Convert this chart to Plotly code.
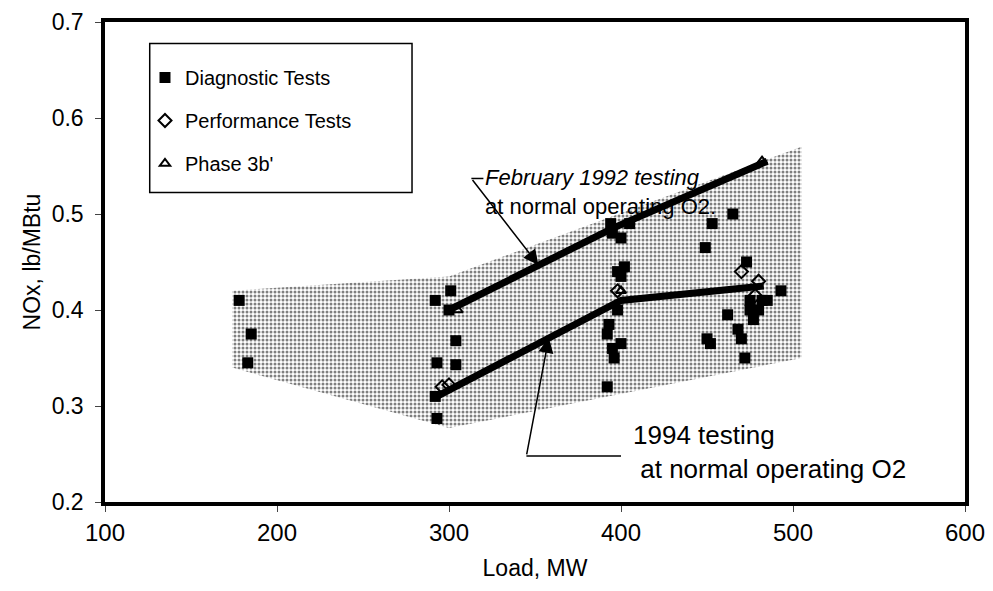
import plotly.graph_objects as go

# ---- data ----
diag_x = [178, 185, 183,
          292, 301, 300, 293, 304, 304, 292, 293,
          392, 392, 393, 395, 396, 398, 400, 402, 400, 395, 394, 398, 400, 405,
          449, 450, 452, 453, 465, 462, 468, 470, 472, 473, 475, 475, 477, 480, 482, 485, 493]
diag_y = [0.41, 0.375, 0.345,
          0.41, 0.42, 0.40, 0.345, 0.368, 0.343, 0.31, 0.287,
          0.32, 0.375, 0.385, 0.36, 0.35, 0.44, 0.435, 0.445, 0.475, 0.48, 0.49, 0.40, 0.365, 0.49,
          0.465, 0.37, 0.365, 0.49, 0.50, 0.395, 0.38, 0.37, 0.35, 0.45, 0.41, 0.40, 0.39, 0.40, 0.41, 0.41, 0.42]
perf_x = [296, 300, 398, 470, 478, 480]
perf_y = [0.32, 0.322, 0.42, 0.44, 0.415, 0.43]
phase_x = [305, 400, 482]
phase_y = [0.40, 0.42, 0.555]

band_x = [174, 300, 505, 505, 300, 174, 174]
band_y = [0.42, 0.435, 0.57, 0.35, 0.277, 0.34, 0.42]

fit1992_x = [300, 395, 485]
fit1992_y = [0.40, 0.485, 0.555]
fit1994_x = [293, 400, 483]
fit1994_y = [0.31, 0.41, 0.425]

x_ticks = [100, 200, 300, 400, 500, 600]
y_ticks = [0.2, 0.3, 0.4, 0.5, 0.6, 0.7]

FONT = "Liberation Sans, Arial, sans-serif"

fig = go.Figure()

fig.add_trace(go.Scatter(
    x=band_x, y=band_y, mode="lines", fill="toself",
    line=dict(width=0, color="rgba(0,0,0,0)"),
    fillcolor="rgba(0,0,0,0)",
    fillpattern=dict(shape=".", fgcolor="#000000", bgcolor="#ffffff", size=4, solidity=0.45),
    showlegend=False, hoverinfo="skip"))

fig.add_trace(go.Scatter(
    x=diag_x, y=diag_y, mode="markers", name="Diagnostic Tests",
    marker=dict(symbol="square", size=11, color="black"), legendgroup="a"))
fig.add_trace(go.Scatter(
    x=perf_x, y=perf_y, mode="markers", name="Performance Tests",
    marker=dict(symbol="diamond-open", size=10, color="black", line=dict(width=2)), legendgroup="b"))
fig.add_trace(go.Scatter(
    x=phase_x, y=phase_y, mode="markers", name="Phase 3b'",
    marker=dict(symbol="triangle-up-open", size=9, color="black", line=dict(width=2)), legendgroup="c"))

fig.add_trace(go.Scatter(x=fit1992_x, y=fit1992_y, mode="lines",
                         line=dict(color="black", width=7), showlegend=False, hoverinfo="skip"))
fig.add_trace(go.Scatter(x=fit1994_x, y=fit1994_y, mode="lines",
                         line=dict(color="black", width=7), showlegend=False, hoverinfo="skip"))

# annotation text
fig.add_annotation(x=320, y=0.5226, xref="x", yref="y", xanchor="left", yanchor="middle",
                   text="<i>February 1992 testing</i><br>at normal operating O2.",
                   showarrow=False, align="left", font=dict(family=FONT, size=22, color="black"))
fig.add_annotation(x=406, y=0.252, xref="x", yref="y", xanchor="left", yanchor="middle",
                   text="1994 testing<br> at normal operating O2",
                   showarrow=False, align="left", font=dict(family=FONT, size=26, color="black"))

# arrows
fig.add_annotation(x=352, y=0.447, ax=313, ay=0.537, xref="x", yref="y", axref="x", ayref="y",
                   text="", showarrow=True, arrowhead=2, arrowsize=2, arrowwidth=1.5, arrowcolor="black")
fig.add_shape(type="line", x0=313, y0=0.537, x1=320, y1=0.537, line=dict(color="black", width=1.5))
fig.add_annotation(x=358, y=0.371, ax=345, ay=0.248, xref="x", yref="y", axref="x", ayref="y",
                   text="", showarrow=True, arrowhead=2, arrowsize=2, arrowwidth=1.5, arrowcolor="black")
fig.add_shape(type="line", x0=345, y0=0.248, x1=400, y1=0.248, line=dict(color="black", width=1.5))

# legend frame
fig.add_shape(type="rect", xref="paper", yref="paper", x0=0.052, x1=0.357, y0=0.645, y1=0.955,
              line=dict(color="black", width=1.5), fillcolor="white", layer="below")

fig.update_layout(
    width=985, height=583,
    margin=dict(l=97, r=28, t=14, b=89),
    paper_bgcolor="white", plot_bgcolor="white",
    font=dict(family=FONT, color="black"),
    showlegend=True,
    legend=dict(x=0.0465, y=0.925, xanchor="left", yanchor="top",
                borderwidth=0, bgcolor="rgba(0,0,0,0)",
                font=dict(family=FONT, size=20, color="black"),
                tracegroupgap=14, itemwidth=30),
    xaxis=dict(range=[100, 600], tickvals=x_ticks, ticks="outside", ticklen=6, tickwidth=1,
               showgrid=False, zeroline=False, showline=True, linewidth=3.5, linecolor="black",
               mirror=True, tickfont=dict(family=FONT, size=24), automargin=False,
               ticklabeloverflow="allow",
               title=dict(text="Load, MW", font=dict(family=FONT, size=23), standoff=16)),
    yaxis=dict(range=[0.2, 0.7], tickvals=y_ticks, tickformat=".1f", ticks="outside", ticklen=6, tickwidth=1,
               showgrid=False, zeroline=False, showline=True, linewidth=3.5, linecolor="black",
               mirror=True, tickfont=dict(family=FONT, size=23), automargin=False,
               ticklabelstandoff=7, ticklabeloverflow="allow",
               title=dict(text="NOx, lb/MBtu", font=dict(family=FONT, size=23), standoff=6)),
)

fig.write_html("out.html")
